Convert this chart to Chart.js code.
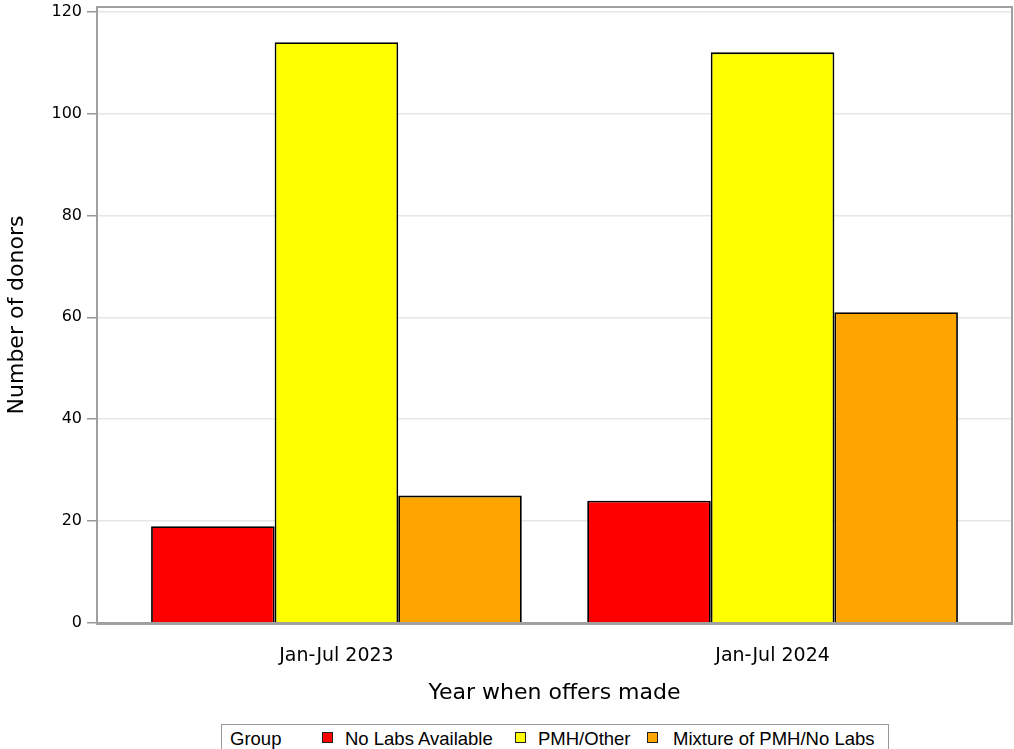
<!DOCTYPE html>
<html>
<head>
<meta charset="utf-8">
<script src="https://cdn.jsdelivr.net/npm/chart.js@4/dist/chart.umd.min.js"></script>
<style>
  body { margin: 0; background: #fff; font-family: "DejaVu Sans", sans-serif; }
  #wrap { position: relative; width: 1014px; height: 749px; overflow: hidden; }
  #grafica { position: absolute; left: 0; top: 0; }
  #leyenda {
    position: absolute; left: 221px; top: 724px; width: 668px; height: 34px;
    border: 1px solid #9a9a9a; box-sizing: border-box;
    font-family: "Liberation Sans", Arial, sans-serif; font-size: 18.5px; color: #000;
    white-space: nowrap;
  }
  #leyenda span { position: absolute; top: 3px; }
  #leyenda .caja { top: 7px; width: 11px; height: 11px; border: 1px solid #222; box-sizing: border-box; }
</style>
</head>
<body>
<div id="wrap">
  <canvas id="grafica" width="1014" height="720"></canvas>
  <div id="leyenda"></div>
</div>
<script>
// datos
const categorias = ["Jan-Jul 2023", "Jan-Jul 2024"];
const grupos = ["No Labs Available", "PMH/Other", "Mixture of PMH/No Labs"];
const noLabs = [19, 24];
const pmhOtro = [114, 112];
const mezcla = [25, 61];
const colores = ["#ff0000", "#ffff00", "#ffa500"];
const ticksY = [0, 20, 40, 60, 80, 100, 120];

// marco gris alrededor del area
const marco = {
  id: "marco",
  afterDraw(chart) {
    const a = chart.chartArea, ctx = chart.ctx;
    ctx.save();
    ctx.strokeStyle = "#a0a0a0";
    ctx.lineWidth = 2;
    ctx.strokeRect(a.left, a.top, a.right - a.left, a.bottom - a.top);
    ctx.restore();
  }
};

const series = [noLabs, pmhOtro, mezcla];
const margenX = 0.549; // SAS deja un poco de aire a los lados

new Chart(document.getElementById("grafica"), {
  type: "bar",
  data: {
    datasets: grupos.map((g, i) => ({
      label: g,
      data: series[i].map((v, j) => ({ x: j, y: v })),
      backgroundColor: colores[i],
      borderColor: "#000",
      borderWidth: 1.8,
      borderSkipped: "bottom",
      barPercentage: 1,
      categoryPercentage: 0.85
    }))
  },
  options: {
    responsive: false,
    animation: false,
    layout: { padding: { top: 7, right: 2, left: 0, bottom: 0 } },
    plugins: { legend: { display: false }, tooltip: { enabled: false } },
    scales: {
      x: {
        type: "linear",
        offset: false,
        min: -margenX, max: categorias.length - 1 + margenX,
        afterBuildTicks(s) { s.ticks = categorias.map((c, j) => ({ value: j })); },
        grid: { display: false, offset: false, drawTicks: true, tickLength: 11, tickColor: "#999", tickWidth: 2 },
        border: { color: "#a0a0a0", width: 3 },
        ticks: { color: "#000", font: { family: "DejaVu Sans", size: 19 }, padding: 11,
                 callback: v => categorias[v] },
        title: { display: true, text: "Year when offers made", color: "#000",
                 font: { family: "DejaVu Sans", size: 22 }, padding: { top: 4, bottom: 14 } },
        afterFit(s) { s.height = 97; }
      },
      y: {
        min: 0, max: 120.9,
        afterBuildTicks(s) { s.ticks = ticksY.map(v => ({ value: v })); },
        grid: { color: "#e6e6e6", lineWidth: 1.5, tickLength: 10, tickColor: "#999" },
        border: { color: "#a0a0a0", width: 2 },
        ticks: { color: "#000", font: { family: "DejaVu Sans", size: 16 }, padding: 5 },
        title: { display: true, text: "Number of donors", color: "#000",
                 font: { family: "DejaVu Sans", size: 22 }, padding: { bottom: 4 } },
        afterFit(s) { s.width = 97; s.paddingTop = 0; }
      }
    }
  },
  plugins: [marco]
});

// leyenda html
const posCaja = [100, 293, 425];
const posTexto = [123, 316, 451];
const ley = document.getElementById("leyenda");
ley.innerHTML = '<span style="left:8px">Group</span>' + grupos.map((g, i) =>
  `<span class="caja" style="left:${posCaja[i]}px;background:${colores[i]}"></span>` +
  `<span style="left:${posTexto[i]}px">${g}</span>`).join("");
</script>
</body>
</html>
